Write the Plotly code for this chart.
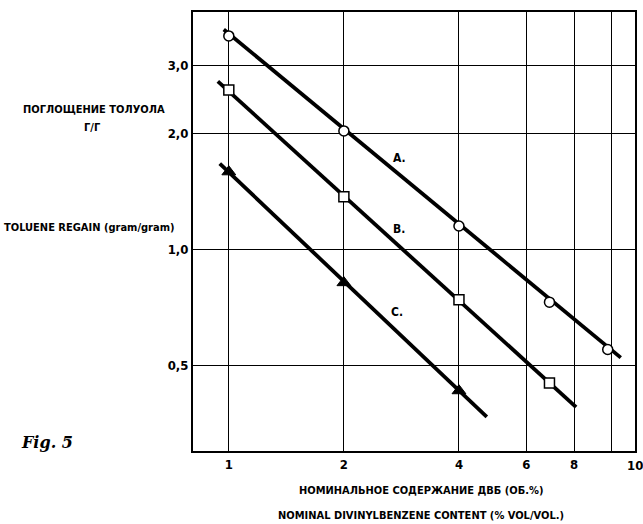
import plotly.graph_objects as go
import math

# Measured points (nominal DVB %, toluene regain g/g)
a_x = [1, 2, 4, 6.9, 9.8]
a_y = [3.58, 2.03, 1.15, 0.73, 0.55]
b_x = [1, 2, 4, 6.9]
b_y = [2.59, 1.37, 0.74, 0.45]
c_x = [1, 2, 4]
c_y = [1.59, 0.82, 0.43]

# Drawn fit lines (end points)
a_line_x = [0.97, 10.6]
a_line_y = [3.72, 0.524]
b_line_x = [0.936, 8.1]
b_line_y = [2.73, 0.39]
c_line_x = [0.947, 4.73]
c_line_y = [1.67, 0.368]

x_ticks = [1, 2, 4, 6, 8, 10]
x_ticktext = ["1", "2", "4", "6", "8", ""]
y_ticks = [0.5, 1, 2, 3]
y_ticktext = ["0,5", "1,0", "2,0", "3,0"]

series_labels = ["A.", "B.", "C."]
label_x = [2.79, 2.79, 2.75]
label_y = [1.73, 1.13, 0.69]

FONT = "Liberation Sans Narrow, DejaVu Sans Condensed, Arial Narrow, sans-serif"

fig = go.Figure()
for lx, ly in [(a_line_x, a_line_y), (b_line_x, b_line_y), (c_line_x, c_line_y)]:
    fig.add_trace(go.Scatter(x=lx, y=ly, mode="lines",
                             line=dict(color="black", width=3.8),
                             showlegend=False, hoverinfo="skip"))

fig.add_trace(go.Scatter(x=a_x, y=a_y, mode="markers", showlegend=False,
                         marker=dict(symbol="circle", size=10, color="white",
                                     line=dict(color="black", width=1.5))))
fig.add_trace(go.Scatter(x=b_x, y=b_y, mode="markers", showlegend=False,
                         marker=dict(symbol="square", size=10, color="white",
                                     line=dict(color="black", width=1.5))))
fig.add_trace(go.Scatter(x=c_x, y=c_y, mode="markers", showlegend=False,
                         marker=dict(symbol="triangle-up", size=12, color="black",
                                     line=dict(color="black", width=1))))

fig.update_xaxes(type="log", range=[math.log10(0.806), math.log10(11.55)],
                 tickvals=x_ticks, ticktext=["<b>" + t + "</b>" for t in x_ticktext],
                 showgrid=True, gridcolor="black", gridwidth=1,
                 showline=True, mirror=True, linecolor="black", linewidth=2,
                 ticks="", zeroline=False,
                 tickfont=dict(family=FONT, size=13, color="black"))
fig.update_yaxes(type="log", range=[math.log10(0.30), math.log10(4.13)],
                 tickvals=y_ticks, ticktext=["<b>" + t + "</b>" for t in y_ticktext],
                 showgrid=True, gridcolor="black", gridwidth=1,
                 showline=True, mirror=True, linecolor="black", linewidth=2,
                 ticks="", zeroline=False,
                 tickfont=dict(family=FONT, size=13, color="black"))

for t, lx, ly in zip(series_labels, label_x, label_y):
    fig.add_annotation(x=math.log10(lx), y=math.log10(ly), text="<b>" + t + "</b>",
                       showarrow=False, font=dict(family=FONT, size=12, color="black"))

fig.add_annotation(text="<b>10</b>", xref="paper", yref="paper", x=1.0, y=-0.012,
                   xanchor="center", yanchor="top", showarrow=False,
                   font=dict(family=FONT, size=13, color="black"))

# Left-side y title (Russian + English)
fig.add_annotation(text="<b>ПОГЛОЩЕНИЕ ТОЛУОЛА</b>", xref="paper", yref="paper",
                   x=-0.223, y=0.777, xanchor="center", yanchor="middle", showarrow=False,
                   font=dict(family=FONT, size=11, color="black"))
fig.add_annotation(text="<b>Г/Г</b>", xref="paper", yref="paper",
                   x=-0.227, y=0.738, xanchor="center", yanchor="middle", showarrow=False,
                   font=dict(family=FONT, size=11, color="black"))
fig.add_annotation(text="<b>TOLUENE REGAIN (gram/gram)</b>", xref="paper", yref="paper",
                   x=-0.235, y=0.51, xanchor="center", yanchor="middle", showarrow=False,
                   font=dict(family=FONT, size=11, color="black"))
fig.add_annotation(text="<i><b>Fig. 5</b></i>", xref="paper", yref="paper",
                   x=-0.33, y=0.02, xanchor="center", yanchor="middle", showarrow=False,
                   font=dict(family="DejaVu Serif, Liberation Serif, serif", size=16, color="black"))

# X title lines
fig.add_annotation(text="<b>НОМИНАЛЬНОЕ СОДЕРЖАНИЕ ДВБ (ОБ.%)</b>", xref="paper", yref="paper",
                   x=0.515, y=-0.09, xanchor="center", yanchor="middle", showarrow=False,
                   font=dict(family=FONT, size=11, color="black"))
fig.add_annotation(text="<b>NOMINAL DIVINYLBENZENE CONTENT (% VOL/VOL.)</b>", xref="paper", yref="paper",
                   x=0.515, y=-0.147, xanchor="center", yanchor="middle", showarrow=False,
                   font=dict(family=FONT, size=11, color="black"))

fig.update_layout(width=643, height=524,
                  margin=dict(l=193, r=6, t=12, b=73),
                  paper_bgcolor="white", plot_bgcolor="white",
                  showlegend=False)

fig.write_html("out.html")
